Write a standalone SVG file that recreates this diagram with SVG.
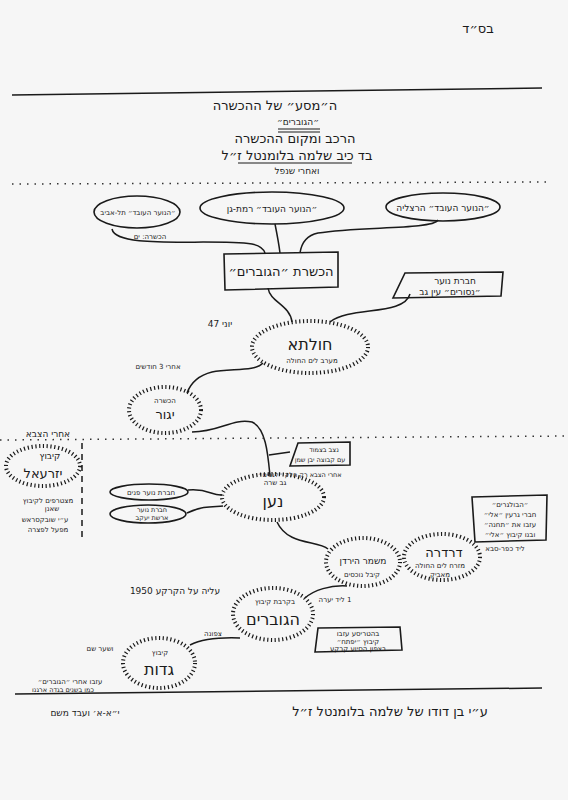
<svg xmlns="http://www.w3.org/2000/svg" width="568" height="800" viewBox="0 0 568 800">
<style>
text{font-family:"DejaVu Sans","Liberation Sans",sans-serif;fill:#1a1a1a;text-anchor:middle;direction:rtl}
.b{font-size:16px}
.t{font-size:13px}
.s{font-size:9px}
.m{font-size:8px}
.xs{font-size:7px}
.xxs{font-size:6.5px}
.n{fill:none;stroke:#1a1a1a;stroke-width:1.6}
.d{fill:none;stroke:#1a1a1a;stroke-width:4;stroke-dasharray:1.2 2.6}
.c{fill:none;stroke:#1a1a1a;stroke-width:1.5}
.dl{stroke:#333;stroke-width:1.5;stroke-dasharray:1.5 6}
</style>
<rect width="568" height="800" fill="#f6f6f6"/>
<g id="header">
<text x="478" y="33" class="t">בס״ד</text>
<path d="M12 95 Q270 92 542 88" class="c"/>
<text x="275" y="110" class="t">ה״מסע״ של ההכשרה</text>
<text x="298" y="125" class="s">״הגוברים״</text>
<path d="M278 129 H320 M278 132 H320" stroke="#1a1a1a" stroke-width="1"/>
<text x="295" y="143" class="t">הרכב ומקום ההכשרה</text>
<text x="297" y="160" class="t">בד כיב שלמה בלומנטל ז״ל</text>
<path d="M238 163 H352" stroke="#1a1a1a" stroke-width="1"/>
<text x="297" y="174" class="s">ואחרי שנפל</text>
<line x1="12" y1="184" x2="548" y2="182" class="dl"/>
</g>
<g id="connectors">
<path d="M112 229 C116 250 210 238 252 244 C262 246 264 250 265 253" class="c"/>
<path d="M275 224 C277 234 279 245 280 253" class="c"/>
<path d="M438 220 C432 230 360 226 318 233 C304 236 301 246 300 253" class="c"/>
<path d="M268 288 C270 302 290 305 292 322" class="c"/>
<path d="M410 294 C404 316 350 306 330 322" class="c"/>
<path d="M263 363 C255 372 230 368 212 372 C196 376 190 385 187 393" class="c"/>
<path d="M192 432 C220 432 232 418 252 422 C266 428 268 455 270 476" class="c"/>
<path d="M269 455 L290 452" class="c"/>
<path d="M188 490 C208 488 212 496 222 495" class="c"/>
<path d="M187 513 C204 505 214 507 223 506" class="c"/>
<path d="M277 522 C288 546 318 540 328 549" class="c"/>
<path d="M347 586 C330 585 314 590 305 598" class="c"/>
<path d="M240 638 C214 637 200 640 190 645" class="c"/>
</g>
<g id="n-telaviv">
<ellipse cx="137" cy="212" rx="43" ry="16" class="n"/>
<text x="138" y="215" class="xs">״הנוער העובד״ תל-אביב</text>
<text x="150" y="239" class="xs">הכשרה: ים</text>
</g>
<g id="n-ramatgan">
<ellipse cx="272" cy="208" rx="72" ry="16" class="n"/>
<text x="272" y="212" class="s">״הנוער העובד״ רמת-גן</text>
</g>
<g id="n-herzliya">
<ellipse cx="443" cy="207" rx="57" ry="14" class="n"/>
<text x="443" y="211" class="s">״הנוער העובד״ הרצליה</text>
</g>
<g id="n-hachshara">
<path d="M224 254 L338 252 L338 287 L225 290 Z" class="n"/>
<text x="281" y="276" class="t">הכשרת ״הגוברים״</text>
</g>
<g id="n-nesorim">
<path d="M405 273 L503 272 L501 296 L393 298 Z" class="n"/>
<text x="455" y="284" class="s">חברת נוער</text>
<text x="450" y="295" class="s">״נסורים״ עין גב</text>
</g>
<g id="n-chulta">
<ellipse cx="310" cy="347" rx="58" ry="26" class="d"/>
<text x="310" y="350" class="b">חולתא</text>
<text x="312" y="363" class="xs">מערב לים החולה</text>
<text x="220" y="327" class="s">יוני 47</text>
<text x="158" y="369" class="xs">אחרי 3 חודשים</text>
</g>
<g id="n-yagur">
<ellipse cx="165" cy="410" rx="36" ry="23" class="d"/>
<text x="165" y="403" class="xs">הכשרה</text>
<text x="165" y="419" class="t">יגור</text>
</g>
<line x1="0" y1="440" x2="568" y2="436" class="dl"/>
<g id="n-yizrael">
<text x="48" y="437" class="s">אחרי הצבא</text>
<line x1="82" y1="443" x2="82" y2="542" stroke="#1a1a1a" stroke-width="1.5" stroke-dasharray="6 5"/>
<ellipse cx="43" cy="466" rx="37" ry="20" class="d"/>
<text x="50" y="459" class="s">קיבוץ</text>
<text x="43" y="478" class="t">יזרעאל</text>
<text x="48" y="503" class="xs">מצטרפים לקיבוץ</text>
<text x="52" y="511" class="xs">שאנן</text>
<text x="45" y="522" class="xs">ע״י שובקסראש</text>
<text x="48" y="532" class="xs">מפעל לפצרה</text>
</g>
<g id="n-benshemen">
<path d="M298 443 L350 442 L350 465 L290 466 Z" class="n"/>
<text x="324" y="452" class="xxs">נצב בצמוד</text>
<text x="320" y="462" class="xxs">עם קבוצה יבן שמן</text>
<text x="300" y="477" class="xxs">אחרי הצבא רק חלק ״לגבים״</text>
</g>
<g id="n-noar1">
<ellipse cx="149" cy="492" rx="39" ry="8" class="n"/>
<text x="151" y="495" class="xs">חברת נוער פנים</text>
</g>
<g id="n-noar2">
<ellipse cx="148" cy="514" rx="38" ry="9" class="n"/>
<text x="152" y="512" class="xxs">חברת נוער</text>
<text x="152" y="520" class="xxs">ארשת יעקב</text>
</g>
<g id="n-naan">
<ellipse cx="273" cy="497" rx="51" ry="23" class="d"/>
<text x="275" y="485" class="xs">גב שרה</text>
<text x="273" y="507" class="b">נען</text>
</g>
<g id="n-bulgarim">
<path d="M472 497 L547 495 L546 540 L475 542 Z" class="n"/>
<text x="510" y="507" class="xs">״הבולגרים״</text>
<text x="510" y="517" class="xs">חברי גרעין ״אלי״</text>
<text x="510" y="527" class="xs">עזבו את ״תחנה״</text>
<text x="510" y="537" class="xs">ובנו קיבוץ ״אלי״</text>
<text x="505" y="551" class="xs">ליד כפר-סבא</text>
</g>
<g id="n-mishmar">
<ellipse cx="363" cy="562" rx="37" ry="24" class="d"/>
<text x="363" y="564" class="s">משמר הירדן</text>
<text x="362" y="577" class="xs">קיבל נוכסים</text>
</g>
<g id="n-dardara">
<ellipse cx="442" cy="557" rx="38" ry="23" class="d"/>
<text x="444" y="557" class="t">דרדרה</text>
<text x="440" y="568" class="xs">מזרח לים החולה</text>
<text x="440" y="577" class="xs">מאביק</text>
</g>
<g id="n-hagovrim">
<text x="335" y="602" class="xs">1 ליד יערה</text>
<text x="175" y="594" class="s">עליה על הקרקע 1950</text>
<ellipse cx="273" cy="614" rx="40" ry="26" class="d"/>
<text x="275" y="604" class="xs">בקרבת קיבוץ</text>
<text x="273" y="625" class="b">הגוברים</text>
</g>
<g id="n-yiftach">
<path d="M318 628 L400 627 L402 650 L315 652 Z" class="n"/>
<text x="358" y="636" class="xs">בהטריסע עזבו</text>
<text x="358" y="644" class="xs">קיבוץ ״יפתח״</text>
<text x="358" y="651" class="xs">בצפון הסיוע קרקע</text>
<text x="213" y="636" class="xs">צפונה</text>
</g>
<g id="n-gadot">
<ellipse cx="159" cy="663" rx="36" ry="25" class="d"/>
<text x="160" y="655" class="xs">קיבוץ</text>
<text x="159" y="675" class="b">גדות</text>
<text x="100" y="651" class="xs">ושער שם</text>
</g>
<g id="footer">
<text x="70" y="684" class="xs">עזבו אחרי ״הגוברים״</text>
<text x="63" y="692" class="xxs">כמו בשנים בגדה ארגנו</text>
<path d="M15 694 Q280 690 542 688" class="c"/>
<text x="85" y="716" class="s">י״א-א׳ ועבד משם</text>
<text x="390" y="716" class="t">ע״י בן דודו של שלמה בלומנטל ז״ל</text>
</g>
</svg>
